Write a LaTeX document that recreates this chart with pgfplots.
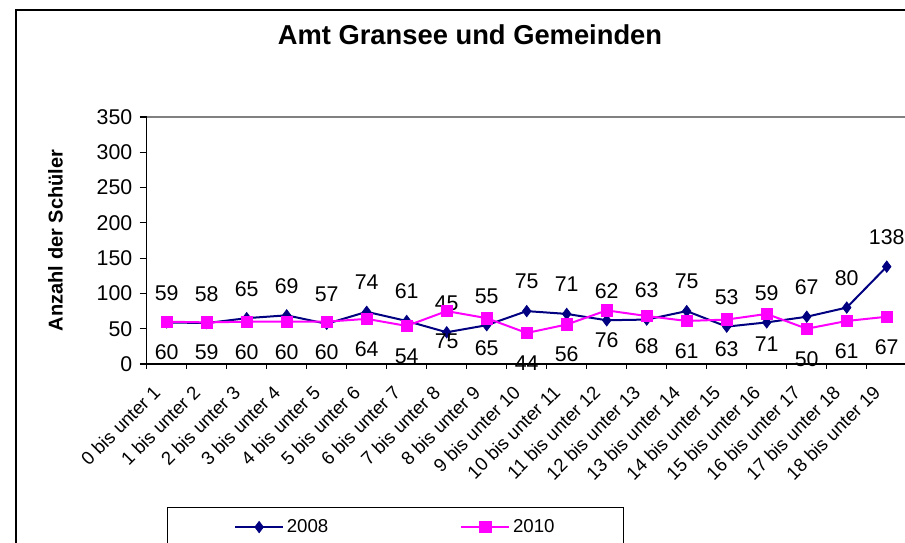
\documentclass[border=0pt]{standalone}
\usepackage{fontspec}
\setmainfont{Liberation Sans}
\usepackage{pgfplots}
\pgfplotsset{compat=1.18}
\definecolor{navy08}{RGB}{0,0,128}
\definecolor{mag10}{RGB}{255,0,255}

\begin{document}
\begin{tikzpicture}
\begin{axis}[
  at={(0pt,0pt)}, anchor=south west,
  scale only axis, width=570pt, height=185.25pt,
  xmin=-0.5, xmax=18.5, ymin=0, ymax=350,
  clip=false,
  /pgf/number format/assume math mode=true,
  ytick={0,50,...,350},
  xtick={0,...,18},
  xticklabels={0 bis unter 1,1 bis unter 2,2 bis unter 3,3 bis unter 4,4 bis unter 5,5 bis unter 6,6 bis unter 7,7 bis unter 8,8 bis unter 9,9 bis unter 10,10 bis unter 11,11 bis unter 12,12 bis unter 13,13 bis unter 14,14 bis unter 15,15 bis unter 16,16 bis unter 17,17 bis unter 18,18 bis unter 19},
  minor xtick={-0.5,0.5,...,18.5},
  major x tick style={draw=none},
  tick align=outside, tick pos=left,
  major tick length=5.25pt, minor tick length=3.75pt,
  tick style={black, line width=0.9pt},
  axis line style={black, line width=0.9pt},
  yticklabel style={font=\fontsize{16}{19}\selectfont, xshift=-2pt},
  xticklabel style={font=\fontsize{14}{17}\selectfont, xshift=-5pt, yshift=-11pt, rotate=45, anchor=east},
  title={Amt Gransee und Gemeinden},
  title style={at={(0.4254,1)}, anchor=base, yshift=48.75pt, font=\fontsize{20.5}{24}\selectfont\bfseries},
  ylabel={Anzahl der Schüler},
  ylabel style={at={(axis description cs:-0.12,0.5)}, anchor=center, font=\fontsize{15}{18}\selectfont\bfseries},
  legend columns=2,
  legend style={at={(axis description cs:0.0267,-0.579)}, anchor=north west, draw=black, line width=0.75pt,
    font=\fontsize{14}{17}\selectfont, inner xsep=50pt, inner ysep=7pt,
    /tikz/every even column/.append style={column sep=97pt}},
  legend image code/.code={\draw[mark repeat=2,mark phase=2,#1] plot coordinates {(0pt,0pt) (18pt,0pt) (36pt,0pt)};},
]
\addplot[navy08, line width=1.5pt, mark=diamond*, mark size=4.3pt, mark options={fill=navy08, line width=0.5pt},
  nodes near coords, every node near coord/.append style={black, anchor=center, yshift=22pt, font=\fontsize{16}{19}\selectfont}]
  coordinates {(0,59) (1,58) (2,65) (3,69) (4,57) (5,74) (6,61) (7,45) (8,55) (9,75) (10,71) (11,62) (12,63) (13,75) (14,53) (15,59) (16,67) (17,80) (18,138)};
\addlegendentry{2008}
\addplot[mag10, line width=1.5pt, mark=square*, mark size=4.3pt, mark options={fill=mag10, line width=0.5pt},
  nodes near coords, every node near coord/.append style={black, anchor=center, yshift=-22.5pt, font=\fontsize{16}{19}\selectfont}]
  coordinates {(0,60) (1,59) (2,60) (3,60) (4,60) (5,64) (6,54) (7,75) (8,65) (9,44) (10,56) (11,76) (12,68) (13,61) (14,63) (15,71) (16,50) (17,61) (18,67)};
\addlegendentry{2010}
\end{axis}
\draw[gray, line width=1.5pt] (current axis.north west) -- (current axis.north east) -- (current axis.south east);
\draw[black, line width=1pt] (-98pt,-160pt) rectangle (600pt,265.5pt);
\pgfresetboundingbox
\path (-110pt,-133.5pt) rectangle (568.7pt,273pt);
\end{tikzpicture}
\end{document}
